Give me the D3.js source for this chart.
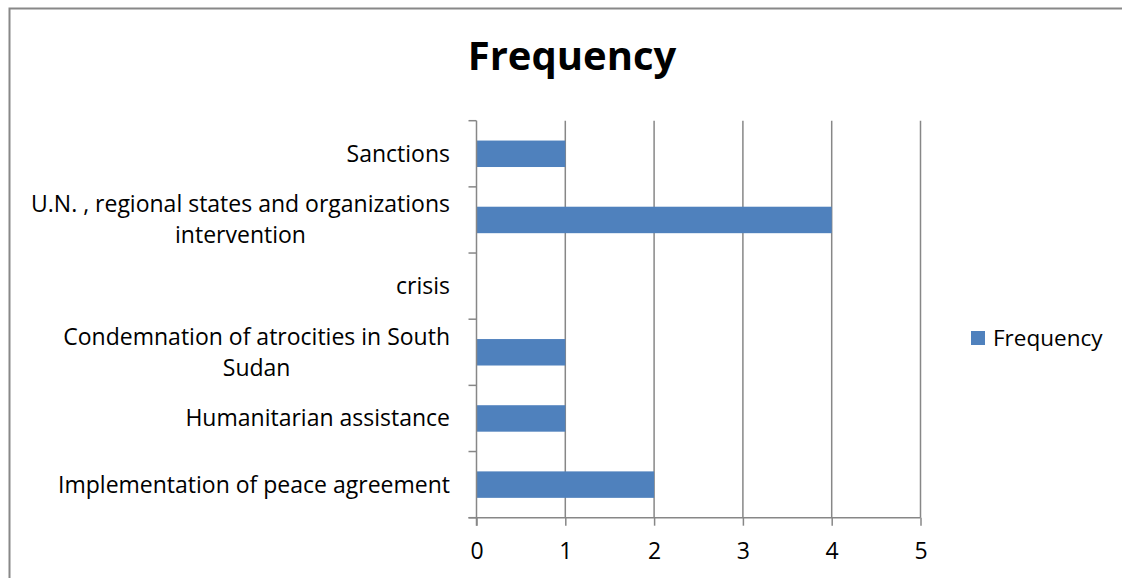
<!DOCTYPE html>
<html>
<head>
<meta charset="utf-8">
<script src="https://cdn.jsdelivr.net/npm/d3@7"></script>
<style>
  html, body { margin: 0; padding: 0; background: #fff; }
  svg { display: block; }
  text { font-family: "Open Sans", "Noto Sans", sans-serif; fill: #000; }
</style>
</head>
<body>
<svg id="chart" width="1122" height="578"></svg>
<script>
// ---- data ----
const title = "Frequency";
const seriesName = "Frequency";
const categories = [
  "Sanctions",
  "U.N. , regional states and organizations\nintervention",
  "crisis",
  "Condemnation of atrocities in South\nSudan",
  "Humanitarian assistance",
  "Implementation of peace agreement"
];
const values = [1, 4, 0, 1, 1, 2];
const xTicks = [0, 1, 2, 3, 4, 5];

// ---- layout ----
const svg = d3.select("#chart");
const plot = { left: 476.5, right: 920.5, top: 120.7, bottom: 517.7 };
const barColor = "#4F81BD";
const gridColor = "#878787";
const labelSize = 23;

// chart frame (cropped at right and bottom)
svg.append("rect")
  .attr("x", 9.5).attr("y", 8.5)
  .attr("width", 1300).attr("height", 800)
  .attr("fill", "#fff")
  .attr("stroke", "#888").attr("stroke-width", 2);

// title
svg.append("text")
  .attr("x", 572).attr("y", 70)
  .attr("text-anchor", "middle")
  .attr("font-size", 40).attr("font-weight", "bold")
  .text(title);

const x = d3.scaleLinear().domain([0, 5]).range([plot.left, plot.right]);
const y = d3.scaleBand().domain(categories)
  .range([plot.top, plot.bottom])
  .paddingInner(0.6).paddingOuter(0.3);

// vertical gridlines
svg.append("g").selectAll("line")
  .data(xTicks.filter(d => d > 0))
  .join("line")
  .attr("x1", d => x(d)).attr("x2", d => x(d))
  .attr("y1", plot.top).attr("y2", plot.bottom)
  .attr("stroke", gridColor).attr("stroke-width", 1.5);

// bars
svg.append("g").selectAll("rect")
  .data(categories.map((c, i) => ({ c, v: values[i] })))
  .join("rect")
  .attr("x", x(0))
  .attr("y", d => y(d.c))
  .attr("width", d => x(d.v) - x(0))
  .attr("height", y.bandwidth())
  .attr("fill", barColor);

// x axis
const xAxis = d3.axisBottom(x).tickValues(xTicks).tickSize(8).tickPadding(17).tickSizeOuter(0)
  .tickFormat(d3.format("d"));
const gx = svg.append("g").attr("transform", `translate(0,${plot.bottom})`).call(xAxis);
gx.select(".domain").attr("stroke", gridColor).attr("stroke-width", 1.5)
  .attr("d", `M${plot.left - 8},0H${plot.right}`);
gx.selectAll(".tick line").attr("stroke", gridColor).attr("stroke-width", 1.5);
gx.selectAll(".tick text").attr("font-size", labelSize)
  .style("font-family", '"Open Sans", sans-serif').attr("fill", "#000");

// y axis line and category boundary ticks
svg.append("line")
  .attr("x1", plot.left).attr("x2", plot.left)
  .attr("y1", plot.top).attr("y2", plot.bottom + 8)
  .attr("stroke", gridColor).attr("stroke-width", 1.5);
const step = y.step();
const boundaries = d3.range(categories.length + 1).map(i => plot.top + i * step);
svg.append("g").selectAll("line")
  .data(boundaries)
  .join("line")
  .attr("x1", plot.left - 8).attr("x2", plot.left)
  .attr("y1", d => d).attr("y2", d => d)
  .attr("stroke", gridColor).attr("stroke-width", 1.5);

// category labels (multi-line, centered block, right edge at 450)
const lineH = 31;
const labelRight = 450;
categories.forEach((c, i) => {
  const lines = c.split("\n");
  const cy = y(c) + y.bandwidth() / 2;
  const t = svg.append("text")
    .attr("font-size", labelSize)
    .attr("text-anchor", "middle");
  lines.forEach((ln, j) => {
    t.append("tspan").attr("x", 0)
      .attr("y", cy + 8 + (j - (lines.length - 1) / 2) * lineH)
      .text(ln);
  });
  const w = t.node().getBBox().width;
  t.selectAll("tspan").attr("x", labelRight - w / 2);
});

// legend
svg.append("rect")
  .attr("x", 971).attr("y", 331)
  .attr("width", 14).attr("height", 14)
  .attr("fill", barColor);
svg.append("text")
  .attr("x", 993).attr("y", 346)
  .attr("font-size", 22.5)
  .text(seriesName);
</script>
</body>
</html>
